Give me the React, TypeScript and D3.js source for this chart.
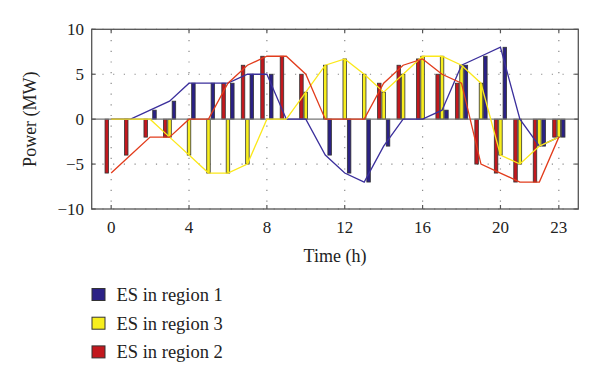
import * as React from 'react';
import * as d3 from 'd3';

// hourly charge/discharge power of each storage unit (MW)
const hours = d3.range(0, 24);
const region1 = [0, 0, 1, 2, 4, 4, 4, 5, 5, 0, 0, -4, -6, -7, -3, 0, 0, 1, 6, 7, 8, 0, -3, -2];
const region3 = [0, 0, 0, -2, -4, -6, -6, -5, 0, 0, 3, 6, 6.7, 5, 3, 5, 7, 7, 6, 4, -4, -5, -3, -2];
const region2 = [-6, -4, -2, -2, 0, 0, 4, 6, 7, 7, 5, 0, 0, 0, 4, 6, 6.7, 5, 4, -5, -6, -7, -7, -2];

const xTicks = [0, 4, 8, 12, 16, 20, 23];
const yTicks = [-10, -5, 0, 5, 10];

const series = [
  { name: 'ES in region 2', values: region2, fill: '#c2181e', line: '#e23c1c', offset: -0.225 },
  { name: 'ES in region 3', values: region3, fill: '#f7ee1e', line: '#fbe81a', offset: 0 },
  { name: 'ES in region 1', values: region1, fill: '#2b2185', line: '#3b2f9c', offset: 0.225 },
];
const legendOrder = ['ES in region 1', 'ES in region 3', 'ES in region 2'];
const lineOrder = ['ES in region 1', 'ES in region 3', 'ES in region 2'];

const W = 600;
const H = 386;
const left = 91.7, right = 578.3, top = 29.3, bottom = 209;
const font = '"Liberation Serif", "DejaVu Serif", serif';

export default function App() {
  const x = d3.scaleLinear().domain([-1, 24]).range([left, right]);
  const y = d3.scaleLinear().domain([-10, 10]).range([bottom, top]);
  const barW = x(0.18) - x(0);

  const byName = (n: string) => series.find(s => s.name === n)!;

  return (
    <svg width={W} height={H} style={{ position: 'absolute', left: 0, top: 0, background: '#fff' }}>
      {/* dotted grid */}
      <g stroke="#8a8a8a" strokeWidth={1.2} strokeDasharray="1.2 9.5">
        {xTicks.map(t => (
          <line key={'gx' + t} x1={x(t)} x2={x(t)} y1={top} y2={bottom} />
        ))}
        {yTicks.filter(t => t !== 0).map(t => (
          <line key={'gy' + t} x1={left} x2={right} y1={y(t)} y2={y(t)} />
        ))}
      </g>

      {/* bars */}
      {series.map(s => (
        <g key={s.name}>
          {hours.map((h, i) => s.values[i] === 0 ? null : (
            <rect key={h}
              x={x(h + s.offset) - barW / 2}
              y={Math.min(y(s.values[i]), y(0))}
              width={barW}
              height={Math.abs(y(s.values[i]) - y(0))}
              fill={s.fill} stroke="#333" strokeWidth={0.8} />
          ))}
        </g>
      ))}

      {/* zero baseline */}
      <line x1={left} x2={right} y1={y(0)} y2={y(0)} stroke="#777" strokeWidth={1.2} />

      {/* lines */}
      {lineOrder.map(n => {
        const s = byName(n);
        const path = d3.line<number>().x((_, i) => x(hours[i])).y(d => y(d))(s.values);
        return <path key={'l' + n} d={path || ''} fill="none" stroke={s.line} strokeWidth={1.3} />;
      })}

      {/* frame and ticks */}
      <rect x={left} y={top} width={right - left} height={bottom - top} fill="none" stroke="#555" strokeWidth={1.3} />
      <g stroke="#555" strokeWidth={1.2}>
        {xTicks.map(t => (
          <g key={'tx' + t}>
            <line x1={x(t)} x2={x(t)} y1={bottom} y2={bottom - 4} />
            <line x1={x(t)} x2={x(t)} y1={top} y2={top + 4} />
          </g>
        ))}
        {yTicks.map(t => (
          <g key={'ty' + t}>
            <line x1={left} x2={left + 4} y1={y(t)} y2={y(t)} />
            <line x1={right} x2={right - 4} y1={y(t)} y2={y(t)} />
          </g>
        ))}
      </g>

      {/* tick labels */}
      <g fontFamily={font} fontSize={17} fill="#222">
        {xTicks.map(t => (
          <text key={'lx' + t} x={x(t)} y={233} textAnchor="middle">{t}</text>
        ))}
        {yTicks.map(t => (
          <text key={'ly' + t} x={84} y={y(t) + 6} textAnchor="end">{t < 0 ? '\u2212' + Math.abs(t) : t}</text>
        ))}
      </g>

      {/* axis titles */}
      <text x={(left + right) / 2} y={262} textAnchor="middle" fontFamily={font} fontSize={18} fill="#222">Time (h)</text>
      <text transform={`translate(36, ${y(0)}) rotate(-90)`} textAnchor="middle" fontFamily={font} fontSize={18} fill="#222">Power (MW)</text>

      {/* legend */}
      {legendOrder.map((n, i) => {
        const s = byName(n);
        const base = 301 + i * 28.7;
        return (
          <g key={'lg' + n}>
            <rect x={92} y={base - 12.5} width={13} height={12} fill={s.fill} stroke="#333" strokeWidth={1} />
            <text x={116.5} y={base} fontFamily={font} fontSize={18.5} fill="#222">{n}</text>
          </g>
        );
      })}
    </svg>
  );
}
